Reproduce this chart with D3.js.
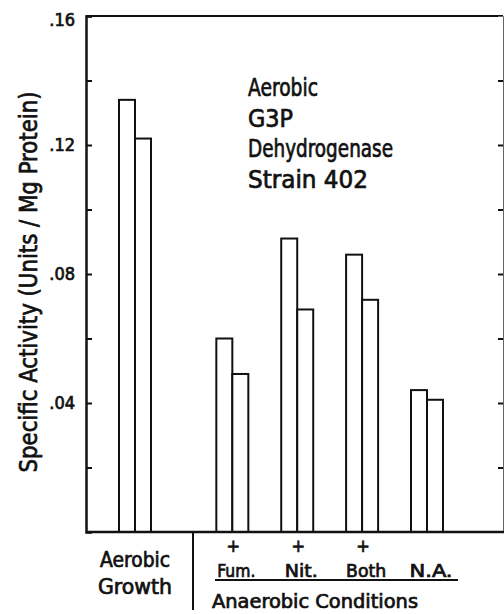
<!DOCTYPE html>
<html>
<head>
<meta charset="utf-8">
<script src="https://cdn.jsdelivr.net/npm/d3@7"></script>
<style>
  body { margin: 0; background: white; }
  svg text { font-family: "DejaVu Sans Condensed", "DejaVu Sans", sans-serif; fill: #111; stroke: #111; stroke-width: 0.7px; }
</style>
</head>
<body>
<svg id="chart" width="504" height="614"></svg>
<script>
const conditions = ["Aerobic Growth", "Fum.", "Nit.", "Both", "N.A."];
const plusMarks = [false, true, true, true, false];
const firstBar = [0.134, 0.060, 0.091, 0.086, 0.044];
const secondBar = [0.122, 0.049, 0.069, 0.072, 0.041];
const yTickValues = [0.02, 0.04, 0.06, 0.08, 0.10, 0.12, 0.14, 0.16];
const yLabelValues = [0.04, 0.08, 0.12, 0.16];
const titleLines = ["Aerobic", "G3P", "Dehydrogenase", "Strain 402"];

const svg = d3.select("#chart");
const plotLeft = 86, plotRight = 503, plotTop = 16, plotBottom = 532;
const barWidth = 16;

// slot index, with an extra half slot between the aerobic and anaerobic groups
const slot = i => i === 0 ? 0 : i + 0.5;

const xScale = d3.scaleLinear()
    .domain([0, 4.5])
    .range([135, 427]);

const yScale = d3.scaleLinear()
    .domain([0, 0.16])
    .range([plotBottom, plotTop]);

const data = conditions.map((c, i) => ({
    name: c, a: firstBar[i], b: secondBar[i], plus: plusMarks[i], pos: slot(i)
}));

// frame: top line and right axis
svg.append("line")
    .attr("x1", plotLeft).attr("x2", plotRight)
    .attr("y1", plotTop).attr("y2", plotTop)
    .attr("stroke", "#111").attr("stroke-width", 2);

const rightAxis = svg.append("g")
    .attr("transform", `translate(${plotRight}, 0)`)
    .call(d3.axisLeft(yScale).tickValues(yTickValues.filter(v => v < 0.16)).tickSize(5).tickFormat(""));
rightAxis.select(".domain").attr("stroke", "#666").attr("stroke-width", 1);
rightAxis.selectAll(".tick line").attr("stroke", "#111").attr("stroke-width", 2);

// left axis with inward ticks
const leftAxis = svg.append("g")
    .attr("transform", `translate(${plotLeft}, 0)`)
    .call(d3.axisLeft(yScale)
        .tickValues(yTickValues)
        .tickSize(-6)
        .tickPadding(11)
        .tickFormat(d => yLabelValues.some(v => Math.abs(v - d) < 1e-9) ? d3.format(".2f")(d).replace(/^0/, "") : ""));
leftAxis.select(".domain").attr("stroke", "#111").attr("stroke-width", 2.5);
leftAxis.selectAll(".tick line").attr("stroke", "#111").attr("stroke-width", 2);
leftAxis.selectAll(".tick text")
    .style("font-family", "'DejaVu Sans Condensed', 'DejaVu Sans', sans-serif")
    .style("font-size", "18px")
    .attr("fill", "#111");
leftAxis.selectAll(".tick").filter(d => d === 0.16).select("text").attr("dy", "0.55em");

// bars
const groups = svg.selectAll("g.group")
    .data(data)
    .enter()
    .append("g")
    .attr("class", "group");

groups.append("rect")
    .attr("x", d => xScale(d.pos) - barWidth)
    .attr("y", d => yScale(d.a))
    .attr("width", barWidth)
    .attr("height", d => yScale(0) - yScale(d.a))
    .attr("fill", "white")
    .attr("stroke", "#111")
    .attr("stroke-width", 2);

groups.append("rect")
    .attr("x", d => xScale(d.pos))
    .attr("y", d => yScale(d.b))
    .attr("width", barWidth)
    .attr("height", d => yScale(0) - yScale(d.b))
    .attr("fill", "white")
    .attr("stroke", "#111")
    .attr("stroke-width", 2);

// bottom axis line
svg.append("line")
    .attr("x1", plotLeft).attr("x2", 504)
    .attr("y1", plotBottom).attr("y2", plotBottom)
    .attr("stroke", "#111").attr("stroke-width", 2.5);

// separator between aerobic and anaerobic
svg.append("line")
    .attr("x1", 193).attr("x2", 193)
    .attr("y1", plotBottom).attr("y2", 610)
    .attr("stroke", "#111").attr("stroke-width", 2);

// category labels
const aerobic = data[0];
svg.append("text")
    .attr("x", xScale(aerobic.pos))
    .attr("y", 567)
    .attr("text-anchor", "middle")
    .attr("textLength", 70)
    .attr("lengthAdjust", "spacingAndGlyphs")
    .style("font-size", "21px")
    .text("Aerobic");
svg.append("text")
    .attr("x", xScale(aerobic.pos))
    .attr("y", 594)
    .attr("text-anchor", "middle")
    .attr("textLength", 74)
    .attr("lengthAdjust", "spacingAndGlyphs")
    .style("font-size", "21px")
    .text("Growth");

const anaerobic = data.slice(1);
const labelWidths = { "Fum.": 38, "Nit.": 33, "Both": 40, "N.A.": 43 };
svg.selectAll("text.cond")
    .data(anaerobic)
    .enter()
    .append("text")
    .attr("class", "cond")
    .attr("x", d => xScale(d.pos) + 4)
    .attr("y", 577)
    .attr("text-anchor", "middle")
    .attr("textLength", d => labelWidths[d.name])
    .attr("lengthAdjust", "spacingAndGlyphs")
    .style("font-size", "18px")
    .text(d => d.name);

svg.selectAll("text.plus")
    .data(anaerobic.filter(d => d.plus))
    .enter()
    .append("text")
    .attr("class", "plus")
    .attr("x", d => xScale(d.pos) + 1)
    .attr("y", 552)
    .attr("text-anchor", "middle")
    .style("font-size", "18px")
    .text("+");

svg.append("line")
    .attr("x1", 215).attr("x2", 458)
    .attr("y1", 580).attr("y2", 580)
    .attr("stroke", "#111").attr("stroke-width", 2);

svg.append("text")
    .attr("x", 212)
    .attr("y", 608)
    .attr("textLength", 206)
    .attr("lengthAdjust", "spacingAndGlyphs")
    .style("font-size", "20px")
    .text("Anaerobic Conditions");

// y axis title
svg.append("text")
    .attr("transform", "translate(37, 282) rotate(-90)")
    .attr("text-anchor", "middle")
    .attr("textLength", 381)
    .attr("lengthAdjust", "spacingAndGlyphs")
    .style("font-size", "25px")
    .text("Specific Activity (Units / Mg Protein)");

// title block
const titleWidths = [70, 45, 145, 120];
svg.selectAll("text.title")
    .data(titleLines)
    .enter()
    .append("text")
    .attr("class", "title")
    .attr("x", 248)
    .attr("y", (d, i) => 96 + i * 30.7)
    .attr("textLength", (d, i) => titleWidths[i])
    .attr("lengthAdjust", "spacingAndGlyphs")
    .style("font-size", "25px")
    .text(d => d);
</script>
</body>
</html>
